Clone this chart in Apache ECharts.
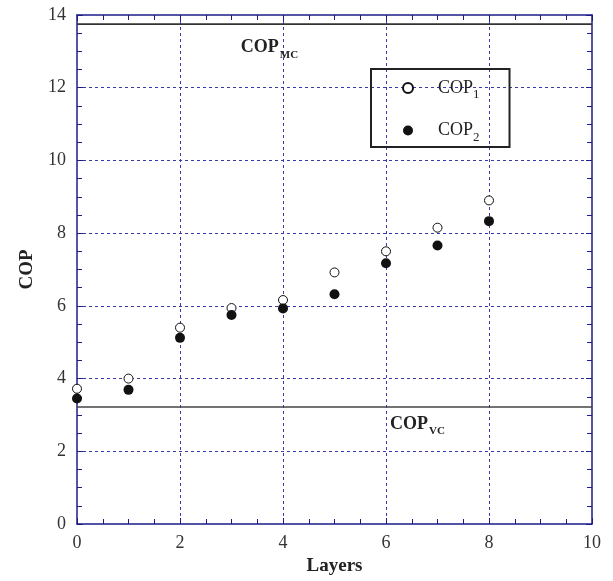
<!DOCTYPE html>
<html>
<head>
<meta charset="utf-8">
<script src="https://cdn.jsdelivr.net/npm/echarts@6/dist/echarts.min.js"></script>
<style>
html, body { margin: 0; padding: 0; background: #fff; }
#chart { width: 613px; height: 581px; }
</style>
</head>
<body>
<div id="chart"></div>
<script>
// values
var layers = [0, 1, 2, 3, 4, 5, 6, 7, 8]
var cop1 = [3.72, 4.0, 5.4, 5.94, 6.16, 6.92, 7.5, 8.15, 8.9]
var cop2 = [3.45, 3.69, 5.12, 5.75, 5.93, 6.32, 7.17, 7.66, 8.33]
var copMC = 13.75
var copVC = 3.22
var xTicks = [0, 2, 4, 6, 8, 10]
var yTicks = [0, 2, 4, 6, 8, 10, 12, 14]

var axisColor = '#1c1c8a'
var gridColor = '#3a3aa8'
var textColor = '#333'
var font = 'Liberation Serif'

function pairs (xs, ys) {
  return xs.map(function (x, i) { return [x, ys[i]] })
}

// frame axis (no labels), used for top and right sides
function frameAxis (pos, max) {
  return {
    type: 'value',
    position: pos,
    min: 0,
    max: max,
    interval: 2,
    axisLine: { onZero: false, lineStyle: { color: axisColor, width: 1.5 } },
    axisTick: { inside: true, length: 6, lineStyle: { color: axisColor } },
    minorTick: { show: true, splitNumber: 4, length: 5, lineStyle: { color: axisColor } },
    axisLabel: { show: false },
    splitLine: { show: false }
  }
}

var chart = echarts.init(document.getElementById('chart'))

var subRich = {
  a: { fontFamily: font, fontWeight: 'bold', fontSize: 18, color: '#222' },
  b: { fontFamily: font, fontWeight: 'bold', fontSize: 11, color: '#222', padding: [14, 0, 0, 1] }
}

chart.setOption({
  backgroundColor: '#fff',
  animation: false,
  grid: { left: 77, right: 21, top: 15, bottom: 52 },
  legend: {
    left: 371,
    top: 69,
    orient: 'vertical',
    borderColor: '#222',
    borderWidth: 2,
    padding: [10, 30, 3, 31],
    itemGap: 20,
    itemWidth: 10,
    itemHeight: 10,
    data: [
      { name: 'COP1', icon: 'circle' },
      { name: 'COP2', icon: 'circle' }
    ],
    formatter: function (name) {
      return '{a|COP}{b|' + name.slice(3) + '}'
    },
    textStyle: {
      padding: [0, 0, 0, 20],
      rich: {
        a: { fontFamily: font, fontSize: 18, color: '#222' },
        b: { fontFamily: font, fontSize: 13, color: '#222', padding: [14, 0, 0, 0] }
      }
    }
  },
  xAxis: [{
    type: 'value',
    min: 0,
    max: 10,
    interval: 2,
    name: 'Layers',
    nameLocation: 'middle',
    nameGap: 33,
    nameTextStyle: { fontFamily: font, fontWeight: 'bold', fontSize: 19, color: '#222' },
    axisLine: { onZero: false, lineStyle: { color: axisColor, width: 1.5 } },
    axisTick: { inside: true, length: 6, lineStyle: { color: axisColor } },
    minorTick: { show: true, splitNumber: 4, length: 5, lineStyle: { color: axisColor } },
    axisLabel: {
      margin: 10,
      fontFamily: font,
      fontSize: 18,
      color: textColor,
      formatter: function (v) { return xTicks.indexOf(v) >= 0 ? String(v) : '' }
    },
    splitLine: { show: true, showMinLine: false, showMaxLine: false, lineStyle: { color: gridColor, type: [3, 3], width: 1 } }
  }, frameAxis('top', 10)],
  yAxis: [{
    type: 'value',
    min: 0,
    max: 14,
    interval: 2,
    name: 'COP',
    nameLocation: 'middle',
    nameGap: 40,
    nameTextStyle: { fontFamily: font, fontWeight: 'bold', fontSize: 19, color: '#222' },
    axisLine: { onZero: false, lineStyle: { color: axisColor, width: 1.5 } },
    axisTick: { inside: true, length: 6, lineStyle: { color: axisColor } },
    minorTick: { show: true, splitNumber: 4, length: 5, lineStyle: { color: axisColor } },
    axisLabel: {
      margin: 11,
      fontFamily: font,
      fontSize: 18,
      color: textColor,
      formatter: function (v) { return yTicks.indexOf(v) >= 0 ? String(v) : '' }
    },
    splitLine: { show: true, showMinLine: false, showMaxLine: false, lineStyle: { color: gridColor, type: [3, 3], width: 1 } }
  }, frameAxis('right', 14)],
  series: [
    {
      name: 'mc',
      type: 'line',
      data: [[0, copMC], [10, copMC]],
      symbol: 'none',
      silent: true,
      lineStyle: { color: '#333', width: 1.6 },
      z: 1
    },
    {
      name: 'vc',
      type: 'line',
      data: [[0, copVC], [10, copVC]],
      symbol: 'none',
      silent: true,
      lineStyle: { color: '#444', width: 1.5 },
      z: 1
    },
    {
      name: 'labels',
      type: 'scatter',
      symbolSize: 0,
      silent: true,
      itemStyle: { opacity: 1 },
      data: [
        { value: [3.18, 13.1], label: { formatter: '{a|COP}{b|MC}' } },
        { value: [6.08, 2.75], label: { formatter: '{a|COP}{b|VC}' } }
      ],
      label: { show: true, position: 'right', distance: 0, rich: subRich },
      z: 1
    },
    {
      name: 'COP1',
      type: 'scatter',
      data: pairs(layers, cop1),
      symbol: 'circle',
      symbolSize: 9,
      clip: false,
      itemStyle: { color: '#fff', borderColor: '#111', borderWidth: 1, opacity: 1 },
      z: 3
    },
    {
      name: 'COP2',
      type: 'scatter',
      data: pairs(layers, cop2),
      symbol: 'circle',
      symbolSize: 10,
      clip: false,
      itemStyle: { color: '#111', opacity: 1 },
      z: 3
    }
  ]
})
</script>
</body>
</html>
